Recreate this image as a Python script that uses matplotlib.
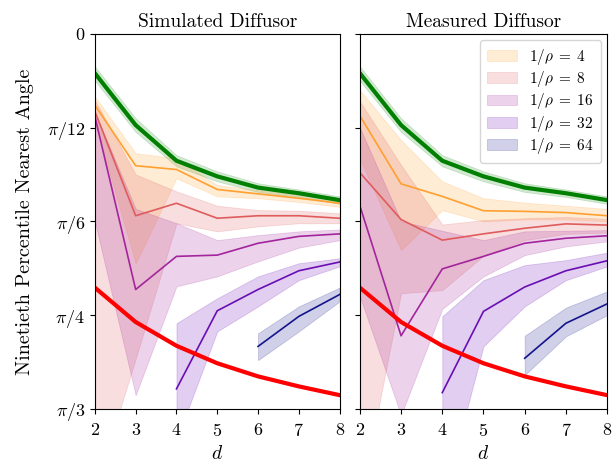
import numpy as np
import matplotlib
matplotlib.use("Agg")
import matplotlib.pyplot as plt

plt.rcParams["font.family"] = "serif"
plt.rcParams["font.serif"] = ["cmr10"]
plt.rcParams["mathtext.fontset"] = "cm"
plt.rcParams["axes.formatter.use_mathtext"] = True

d = [2, 3, 4, 5, 6, 7, 8]
rho_inv = [4, 8, 16, 32, 64]
colors = ["#ffa030", "#e05c5c", "#a3259c", "#6a0eb4", "#14148c"]
d_start = [2, 2, 2, 4, 6]

# reference curves (degrees)
upper_bound = [6.3, 14.6, 20.3, 22.8, 24.6, 25.5, 26.6]
upper_lo = [5.2, 13.5, 19.4, 22.0, 23.9, 24.9, 26.0]
upper_hi = [7.5, 15.7, 21.2, 23.6, 25.3, 26.1, 27.2]
lower_bound = [40.6, 46.1, 49.9, 52.7, 54.8, 56.4, 57.8]

# simulated diffusor: median and spread per 1/rho (degrees)
sim_line = [
    [11.4, 21.1, 21.7, 24.9, 25.6, 26.3, 27.1],
    [12.4, 29.1, 27.1, 29.5, 29.1, 29.1, 29.5],
    [13.2, 40.9, 35.6, 35.4, 33.5, 32.4, 32.0],
    [56.8, 44.3, 40.9, 37.9, 36.5],
    [50.0, 45.2, 41.7],
]
sim_lo = [
    [10.0, 19.1, 19.9, 24.2, 25.0, 25.7, 26.5],
    [10.6, 22.5, 25.2, 27.5, 28.2, 28.3, 28.7],
    [12.5, 28.0, 30.3, 33.0, 32.2, 31.6, 31.3],
    [46.3, 42.3, 38.8, 36.7, 35.9],
    [47.9, 43.6, 40.6],
]
sim_hi = [
    [14.0, 36.7, 23.1, 26.0, 26.3, 26.9, 27.7],
    [73.0, 52.0, 30.3, 31.6, 30.8, 30.3, 30.3],
    [30.0, 57.8, 40.4, 38.8, 36.4, 34.2, 33.0],
    [65.0, 47.6, 43.6, 39.4, 37.2],
    [52.2, 47.6, 42.8],
]

# measured diffusor
meas_line = [
    [13.1, 24.0, 26.0, 28.3, 28.4, 28.6, 29.1],
    [22.2, 29.7, 33.0, 32.0, 31.1, 30.4, 30.6],
    [27.5, 48.3, 37.6, 35.6, 33.5, 32.7, 32.3],
    [57.4, 44.4, 40.5, 37.9, 36.3],
    [51.9, 46.3, 43.2],
]
meas_lo = [
    [9.0, 17.0, 23.6, 26.3, 27.0, 27.5, 28.0],
    [10.8, 21.0, 30.5, 29.8, 29.5, 29.3, 29.6],
    [15.0, 30.0, 31.5, 33.0, 31.6, 31.5, 31.4],
    [45.2, 39.4, 37.0, 36.2, 35.0],
    [48.3, 43.8, 41.2],
]
meas_hi = [
    [20.0, 34.6, 28.2, 30.0, 29.7, 29.7, 30.0],
    [75.0, 41.5, 41.0, 35.5, 33.0, 32.0, 31.8],
    [42.0, 61.0, 44.0, 38.8, 35.4, 34.0, 33.2],
    [75.0, 50.0, 43.6, 39.4, 37.2],
    [54.6, 48.4, 45.0],
]

fig = plt.figure(figsize=(6.12, 4.70), dpi=100)
ax1 = fig.add_axes([0.155, 0.13, 0.400, 0.798])
ax2 = fig.add_axes([0.588, 0.13, 0.404, 0.798], sharey=ax1)

panels = [
    (ax1, "Simulated Diffusor", sim_line, sim_lo, sim_hi),
    (ax2, "Measured Diffusor", meas_line, meas_lo, meas_hi),
]

for ax, title, lines, los, his in panels:
    ax.fill_between(d, np.deg2rad(upper_lo), np.deg2rad(upper_hi),
                    color="green", alpha=0.18, lw=0.5)
    for k in range(len(rho_inv)):
        x = d[d.index(d_start[k]):]
        ax.fill_between(x, np.deg2rad(los[k]), np.deg2rad(his[k]),
                        color=colors[k], alpha=0.2, lw=0.6,
                        label=r"$1/\rho\;=\;%d$" % rho_inv[k])
        ax.plot(x, np.deg2rad(lines[k]), color=colors[k], lw=1.2)
    ax.plot(d, np.deg2rad(upper_bound), color="green", lw=3)
    ax.plot(d, np.deg2rad(lower_bound), color="red", lw=3)

    ax.set_title(title, fontsize=14, pad=5)
    ax.set_xlim(2, 8)
    ax.set_xticks(d)
    ax.set_xlabel(r"$d$", fontsize=14, labelpad=4)
    ax.tick_params(labelsize=13)
    ax.tick_params(axis="x", pad=6)

ax1.set_ylim(np.pi / 3, 0)
ax1.set_yticks([0, np.pi / 12, np.pi / 6, np.pi / 4, np.pi / 3])
ax1.set_yticklabels([r"$0$", r"$\pi/12$", r"$\pi/6$", r"$\pi/4$", r"$\pi/3$"])
ax1.set_ylabel("Ninetieth Percentile Nearest Angle", fontsize=14.5, labelpad=9)
plt.setp(ax2.get_yticklabels(), visible=False)

ax2.legend(loc="upper right", fontsize=11, handlelength=2.0,
           borderpad=0.45, labelspacing=0.15, handletextpad=0.8,
           borderaxespad=0.4)

fig.savefig("out.png", dpi=100)
